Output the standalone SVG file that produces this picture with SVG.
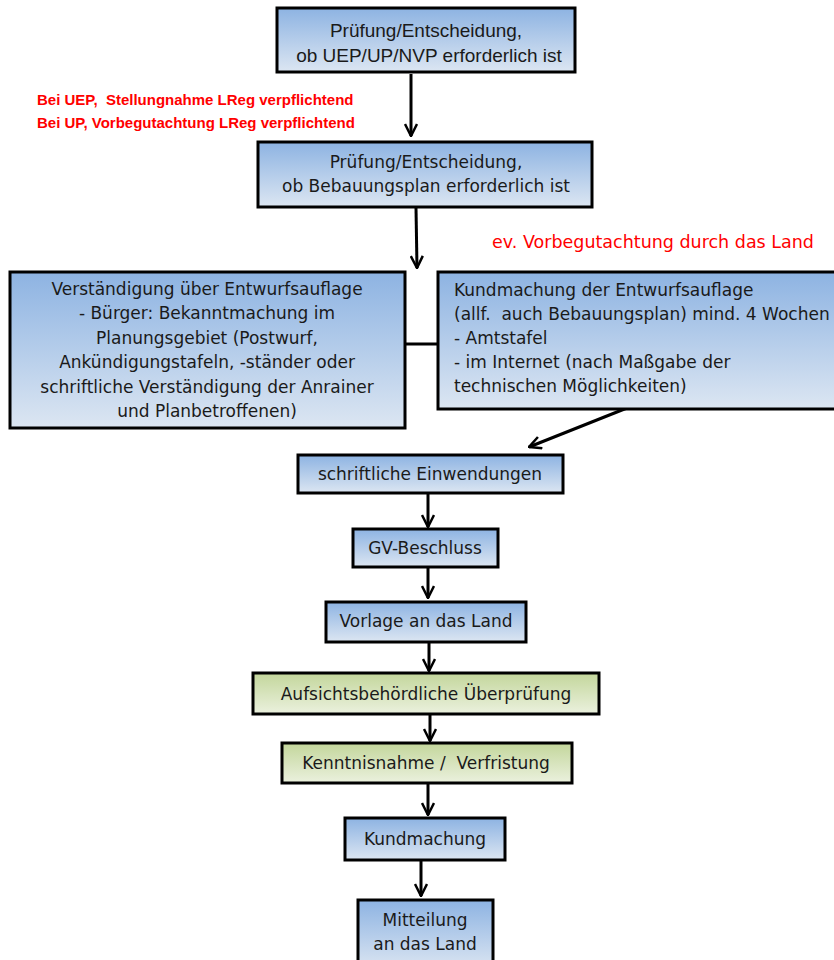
<svg xmlns="http://www.w3.org/2000/svg" width="834" height="960" viewBox="0 0 834 960">
<defs>
<linearGradient id="gb" x1="0" y1="0" x2="0" y2="1">
<stop offset="0" stop-color="#8db3e2"/>
<stop offset="1" stop-color="#dce6f2"/>
</linearGradient>
<linearGradient id="gg" x1="0" y1="0" x2="0" y2="1">
<stop offset="0" stop-color="#c3d69b"/>
<stop offset="1" stop-color="#ebf1de"/>
</linearGradient>
<marker id="ah" viewBox="0 0 14 14" refX="13" refY="7" markerWidth="14" markerHeight="14" markerUnits="userSpaceOnUse" orient="auto">
<path d="M1,1 L13,7 L1,13" fill="none" stroke="#000" stroke-width="2.5"/>
</marker>
<style>
.b{fill:url(#gb);stroke:#000;stroke-width:3}
.g{fill:url(#gg);stroke:#000;stroke-width:3}
text{white-space:pre}
.t{font-family:"DejaVu Sans",Verdana,sans-serif;font-size:17px;fill:#1a1a1a}
.c{text-anchor:middle}
.t1{font-family:"Liberation Sans",Arial,sans-serif;font-size:19px;fill:#1a1a1a;text-anchor:middle}
.r{font-family:"Liberation Sans",Arial,sans-serif;font-size:15px;font-weight:bold;fill:#ff0000}
.r2{font-family:"DejaVu Sans",Verdana,sans-serif;font-size:17.5px;fill:#ff0000}
.ln{stroke:#000;stroke-width:3;fill:none}
</style>
</defs>
<rect width="834" height="960" fill="#fff"/>

<g id="connectors">
<line class="ln" x1="411" y1="74" x2="411" y2="136" marker-end="url(#ah)"/>
<line class="ln" x1="416" y1="208" x2="417" y2="268" marker-end="url(#ah)"/>
<line class="ln" x1="405" y1="344" x2="438" y2="344"/>
<line class="ln" x1="627" y1="408" x2="529" y2="447" marker-end="url(#ah)"/>
<line class="ln" x1="428" y1="494" x2="428" y2="527" marker-end="url(#ah)"/>
<line class="ln" x1="428" y1="567" x2="428" y2="598" marker-end="url(#ah)"/>
<line class="ln" x1="429" y1="642" x2="429" y2="671" marker-end="url(#ah)"/>
<line class="ln" x1="430" y1="714" x2="430" y2="741" marker-end="url(#ah)"/>
<line class="ln" x1="428" y1="783" x2="428" y2="815" marker-end="url(#ah)"/>
<line class="ln" x1="421" y1="860" x2="421" y2="896" marker-end="url(#ah)"/>
</g>

<g id="n1">
<rect class="b" x="277" y="8" width="298" height="64"/>
<text class="t1" x="426" y="37">Prüfung/Entscheidung,</text>
<text class="t1" x="429" y="62">ob UEP/UP/NVP erforderlich ist</text>
</g>

<g id="note1">
<text class="r" x="37" y="105">Bei UEP,  Stellungnahme LReg verpflichtend</text>
<text class="r" x="37" y="128">Bei UP, Vorbegutachtung LReg verpflichtend</text>
</g>

<g id="n2">
<rect class="b" x="258" y="142" width="334" height="65"/>
<text class="t c" x="426" y="168">Prüfung/Entscheidung,</text>
<text class="t c" x="426" y="192">ob Bebauungsplan erforderlich ist</text>
</g>

<g id="note2">
<text class="r2" x="492" y="248">ev. Vorbegutachtung durch das Land</text>
</g>

<g id="n3">
<rect class="b" x="10" y="272" width="395" height="156"/>
<text class="t c" x="207" y="295">Verständigung über Entwurfsauflage</text>
<text class="t c" x="207" y="319">- Bürger: Bekanntmachung im</text>
<text class="t c" x="207" y="344">Planungsgebiet (Postwurf,</text>
<text class="t c" x="207" y="368">Ankündigungstafeln, -ständer oder</text>
<text class="t c" x="207" y="393">schriftliche Verständigung der Anrainer</text>
<text class="t c" x="207" y="417">und Planbetroffenen)</text>
</g>

<g id="n4">
<rect class="b" x="438" y="272" width="400" height="137"/>
<text class="t" x="454" y="296">Kundmachung der Entwurfsauflage</text>
<text class="t" x="454" y="320">(allf.  auch Bebauungsplan) mind. 4 Wochen</text>
<text class="t" x="454" y="344">- Amtstafel</text>
<text class="t" x="454" y="368">- im Internet (nach Maßgabe der</text>
<text class="t" x="454" y="392">technischen Möglichkeiten)</text>
</g>

<g id="n5">
<rect class="b" x="298" y="455" width="265" height="38"/>
<text class="t c" x="430" y="480">schriftliche Einwendungen</text>
</g>

<g id="n6">
<rect class="b" x="353" y="529" width="145" height="38"/>
<text class="t c" x="425" y="554">GV-Beschluss</text>
</g>

<g id="n7">
<rect class="b" x="326" y="602" width="200" height="40"/>
<text class="t c" x="426" y="627">Vorlage an das Land</text>
</g>

<g id="n8">
<rect class="g" x="253" y="673" width="346" height="41"/>
<text class="t c" x="426" y="700">Aufsichtsbehördliche Überprüfung</text>
</g>

<g id="n9">
<rect class="g" x="282" y="743" width="290" height="40"/>
<text class="t c" x="426" y="769">Kenntnisnahme /  Verfristung</text>
</g>

<g id="n10">
<rect class="b" x="345" y="818" width="160" height="42"/>
<text class="t c" x="425" y="845">Kundmachung</text>
</g>

<g id="n11">
<rect class="b" x="358" y="900" width="135" height="70"/>
<text class="t c" x="425" y="926">Mitteilung</text>
<text class="t c" x="425" y="950">an das Land</text>
</g>
</svg>
